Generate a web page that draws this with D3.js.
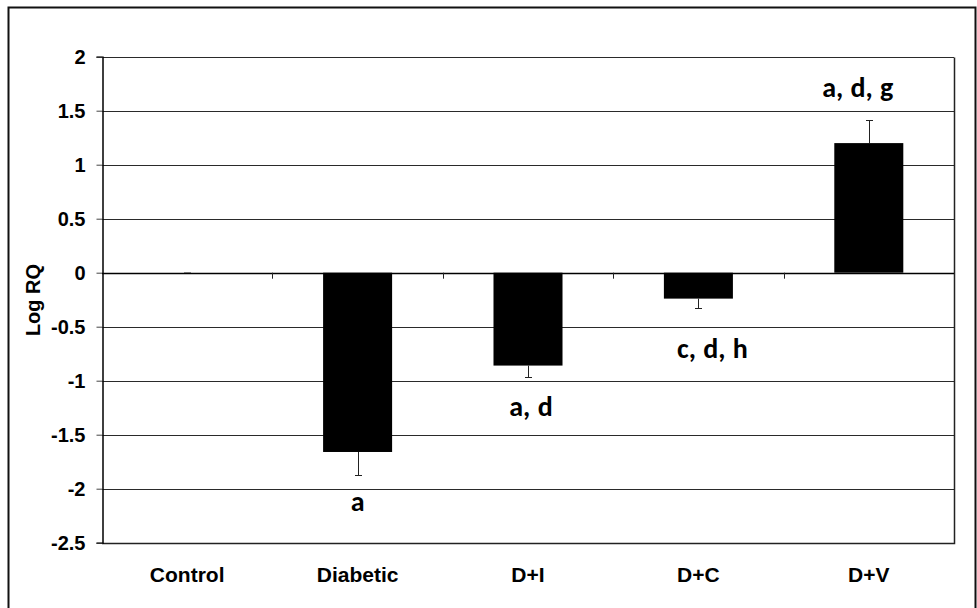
<!DOCTYPE html>
<html>
<head>
<meta charset="utf-8">
<script src="https://cdn.jsdelivr.net/npm/d3@7"></script>
<style>
  body { margin: 0; background: #fff; }
  svg { display: block; }
  .tick-label, .cat-label, .y-title { font-family: "Liberation Sans", Arial, sans-serif; font-weight: bold; font-size: 20px; fill: #000; }
  .cat-label { font-size: 21px; }
  .letters { font-family: Carlito, Calibri, Lato, sans-serif; font-weight: bold; font-size: 28px; word-spacing: 1px; fill: #000; }
</style>
</head>
<body>
<svg width="977" height="608"></svg>
<script>
// values
var categories = ["Control", "Diabetic", "D+I", "D+C", "D+V"];
var values = [0, -1.66, -0.86, -0.24, 1.20];
var errors = [0.005, 0.215, 0.11, 0.09, 0.21];
var letters = ["", "a", "a, d", "c, d, h", "a, d, g"];
var letterAt = [null, -2.21, -1.33, -0.79, 1.63]; // baseline of letters, in Log RQ units
var yTicks = [2, 1.5, 1, 0.5, 0, -0.5, -1, -1.5, -2, -2.5];

var svg = d3.select("svg"),
    width = +svg.attr("width"),
    height = +svg.attr("height");

var plotLeft = 102, plotRight = 954, plotTop = 56.7, plotBottom = 542.7;
var letterShift = [0, 0, 3, 14, -11];

// outer frame
svg.append("path")
  .attr("d", "M8.5," + height + "V7.5H975.5V" + height)
  .attr("fill", "none").attr("stroke", "#111").attr("stroke-width", 2);

var x = d3.scaleBand().domain(categories).range([plotLeft, plotRight])
  .paddingInner(0.595).paddingOuter(0.2975);
var y = d3.scaleLinear().domain([-2.5, 2]).range([plotBottom, plotTop]);

// gridlines
svg.append("g").selectAll("line")
  .data(yTicks.filter(function(d) { return d > -2.5; }))
  .enter().append("line")
    .attr("x1", plotLeft).attr("x2", plotRight)
    .attr("y1", function(d) { return Math.round(y(d)) + 0.5; })
    .attr("y2", function(d) { return Math.round(y(d)) + 0.5; })
    .attr("stroke", "#2a2a2a").attr("stroke-width", 1);

// plot frame (right + bottom)
svg.append("path")
  .attr("d", "M" + (plotRight + 0.5) + "," + (Math.round(plotTop) + 0.5) + "V" + (Math.round(plotBottom) + 0.5) + "H" + plotLeft)
  .attr("fill", "none").attr("stroke", "#222").attr("stroke-width", 1.5);

// y axis
var yAxis = svg.append("g")
  .attr("transform", "translate(" + (plotLeft + 0.5) + ",0)")
  .call(d3.axisLeft(y).tickValues(yTicks).tickSize(6).tickPadding(11).tickFormat(function(d) { return String(d); }));
yAxis.attr("font-size", null).attr("font-family", null);
yAxis.select(".domain").attr("stroke", "#000").attr("stroke-width", 1.5);
yAxis.selectAll(".tick line").attr("stroke", "#444");
yAxis.selectAll(".tick text").attr("class", "tick-label").attr("dy", "0.36em");

svg.append("text")
  .attr("class", "y-title")
  .attr("transform", "translate(40,300) rotate(-90)")
  .attr("text-anchor", "middle")
  .text("Log RQ");

// bars
var data = categories.map(function(c, i) {
  return { cat: c, v: values[i], e: errors[i], lab: letters[i], ly: letterAt[i], dx: letterShift[i] };
});

svg.append("g").selectAll("rect")
  .data(data)
  .enter().append("rect")
    .attr("x", function(d) { return x(d.cat); })
    .attr("width", x.bandwidth())
    .attr("y", function(d) { return y(Math.max(0, d.v)); })
    .attr("height", function(d) { return Math.abs(y(d.v) - y(0)); })
    .attr("fill", "#000");

// error bars, one-sided away from zero
function errEnd(d) { return y(d.v + (d.v >= 0 ? d.e : -d.e)); }
function mid(d) { return Math.round(x(d.cat) + x.bandwidth() / 2); }

var eb = svg.append("g").selectAll("g")
  .data(data)
  .enter().append("g")
    .attr("stroke", function(d) { return d.v === 0 ? "#999" : "#222"; })
    .attr("stroke-width", 1);
eb.append("line")
  .attr("x1", function(d) { return mid(d) + 0.5; })
  .attr("x2", function(d) { return mid(d) + 0.5; })
  .attr("y1", function(d) { return y(d.v); })
  .attr("y2", errEnd);
eb.append("line")
  .attr("x1", function(d) { return mid(d) - 3; })
  .attr("x2", function(d) { return mid(d) + 4; })
  .attr("y1", function(d) { return Math.round(errEnd(d)) + 0.5; })
  .attr("y2", function(d) { return Math.round(errEnd(d)) + 0.5; });

// x axis on zero line, with category separator ticks
svg.append("line")
  .attr("x1", plotLeft).attr("x2", plotRight)
  .attr("y1", Math.round(y(0)) + 0.5).attr("y2", Math.round(y(0)) + 0.5)
  .attr("stroke", "#000").attr("stroke-width", 1.5);
svg.append("g").selectAll("line")
  .data(d3.range(1, categories.length))
  .enter().append("line")
    .attr("x1", function(i) { return Math.round(x(categories[i]) - x.step() * x.paddingInner() / 2) + 0.5; })
    .attr("x2", function(i) { return Math.round(x(categories[i]) - x.step() * x.paddingInner() / 2) + 0.5; })
    .attr("y1", y(0)).attr("y2", y(0) + 6)
    .attr("stroke", "#222");

// category labels
svg.append("g").selectAll("text")
  .data(data)
  .enter().append("text")
    .attr("class", "cat-label")
    .attr("x", function(d) { return x(d.cat) + x.bandwidth() / 2; })
    .attr("y", 582)
    .attr("text-anchor", "middle")
    .text(function(d) { return d.cat; });

// significance letters
svg.append("g").selectAll("text")
  .data(data.filter(function(d) { return d.lab; }))
  .enter().append("text")
    .attr("class", "letters")
    .attr("x", function(d) { return x(d.cat) + x.bandwidth() / 2 + d.dx; })
    .attr("y", function(d) { return y(d.ly); })
    .attr("text-anchor", "middle")
    .text(function(d) { return d.lab; });
</script>
</body>
</html>
